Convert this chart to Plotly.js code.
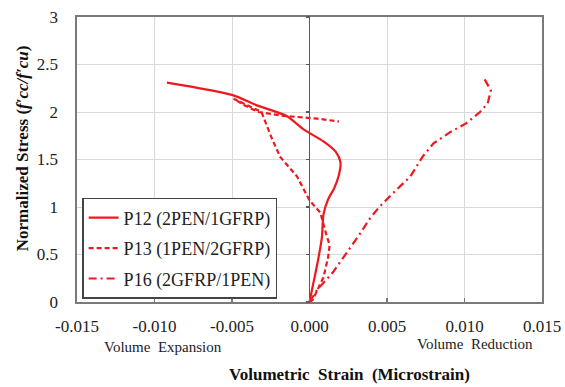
<!DOCTYPE html>
<html>
<head>
<meta charset="utf-8">
<script src="https://cdn.plot.ly/plotly-3.0.1.min.js"></script>
<style>html,body{margin:0;padding:0;background:#fff;}#chart{width:565px;height:387px;}</style>
</head>
<body>
<div id="chart"></div>
<script>
// P12 (2PEN/1GFRP)
const p12Strain = [0.0, 0.0002, 0.00055, 0.0008, 0.0009, 0.0012, 0.0016, 0.0019, 0.0020, 0.0017, 0.0009, -0.0004, -0.0015, -0.0034, -0.0050, -0.0092];
const p12Stress = [0.0, 0.16, 0.44, 0.68, 0.92, 1.08, 1.20, 1.34, 1.47, 1.58, 1.69, 1.82, 1.96, 2.07, 2.18, 2.31];
// P13 (1PEN/2GFRP)
const p13Strain = [0.0, 0.0002, 0.0009, 0.0012, 0.0013, 0.0011, 0.0007, 0.0, -0.0008, -0.0011, -0.0019, -0.0024, -0.0029, -0.0031, -0.0040, -0.0049, -0.0042, -0.0033, -0.0017, 0.0005, 0.0019];
const p13Stress = [0.0, 0.02, 0.26, 0.47, 0.60, 0.70, 0.94, 1.07, 1.32, 1.38, 1.53, 1.71, 1.92, 2.00, 2.07, 2.14, 2.07, 2.00, 1.96, 1.93, 1.90];
// P16 (2GFRP/1PEN)
const p16Strain = [0.0, 0.0005, 0.0015, 0.0022, 0.0031, 0.0039, 0.0045, 0.0056, 0.0065, 0.0073, 0.0080, 0.0091, 0.0101, 0.0110, 0.0115, 0.0117, 0.0112];
const p16Stress = [0.0, 0.13, 0.31, 0.47, 0.68, 0.88, 1.00, 1.18, 1.32, 1.53, 1.67, 1.79, 1.88, 2.00, 2.09, 2.23, 2.37];

const seriesNames = ['P12 (2PEN/1GFRP)', 'P13 (1PEN/2GFRP)', 'P16 (2GFRP/1PEN)'];
const xTickVals = [-0.015, -0.010, -0.005, 0.000, 0.005, 0.010, 0.015];
const xTickText = ['-0.015', '-0.010', '-0.005', '0.000', '0.005', '0.010', '0.015'];
const yTickVals = [0, 0.5, 1, 1.5, 2, 2.5, 3];
const yTickText = ['0', '0.5', '1', '1.5', '2', '2.5', '3'];

const RED = 'rgb(238,24,30)';
const serif = '"Liberation Serif", "Times New Roman", "DejaVu Serif", serif';

const traces = [
  {x: p12Strain, y: p12Stress, name: seriesNames[0], mode: 'lines', legendgroup: 'a',
   line: {color: RED, width: 2.2, shape: 'spline', smoothing: 0.7}},
  {x: p13Strain, y: p13Stress, name: seriesNames[1], mode: 'lines', legendgroup: 'b',
   line: {color: RED, width: 2.2, dash: '5px,3px'}},
  {x: p16Strain, y: p16Stress, name: seriesNames[2], mode: 'lines', legendgroup: 'c',
   line: {color: RED, width: 2.2, dash: '8px,4px,2px,4px'}},
  {x: [0], y: [0], yaxis: 'y2', mode: 'markers', marker: {opacity: 0}, showlegend: false, hoverinfo: 'skip'}
];

const layout = {
  width: 565, height: 387,
  margin: {l: 77, r: 23, t: 17, b: 85},
  paper_bgcolor: '#fff', plot_bgcolor: '#fff',
  font: {family: serif, color: '#222'},
  showlegend: true,
  xaxis: {
    range: [-0.015, 0.015], tickvals: xTickVals, ticktext: xTickText,
    showgrid: true, gridcolor: '#d9d9d9', gridwidth: 1,
    zeroline: true, zerolinecolor: '#5a5a5a', zerolinewidth: 1.6,
    showline: true, linecolor: '#7a7a7a', linewidth: 1.6, mirror: true,
    ticks: 'inside', ticklen: 4, tickcolor: '#7a7a7a', tickwidth: 1.2,
    ticklabelstandoff: 8,
    tickfont: {family: serif, size: 17, color: '#222'}
  },
  yaxis: {
    range: [0, 3], tickvals: yTickVals, ticktext: yTickText,
    showgrid: true, gridcolor: '#d9d9d9', gridwidth: 1,
    zeroline: false,
    showline: true, linecolor: '#7a7a7a', linewidth: 1.6, mirror: true,
    ticks: '', ticklabelstandoff: 14,
    tickfont: {family: serif, size: 17, color: '#222'}
  },
  yaxis2: {
    overlaying: 'y', anchor: 'free', position: 0.5, side: 'left',
    range: [0, 3], tickvals: yTickVals, showticklabels: false,
    showgrid: false, zeroline: false, showline: false,
    ticks: 'outside', ticklen: 4, tickcolor: '#5a5a5a', tickwidth: 1.2
  },
  legend: {
    x: 0.011, y: 0.365, xanchor: 'left', yanchor: 'top',
    bgcolor: '#fff', bordercolor: '#444', borderwidth: 1.5,
    font: {family: serif, size: 18, color: '#222'},
    traceorder: 'grouped', tracegroupgap: 4
  },
  annotations: [
    {text: 'Normalized Stress (<i>f′cc/f′cu</i>)', xref: 'paper', yref: 'paper',
     x: -0.118, y: 0.54, xanchor: 'center', yanchor: 'middle', textangle: -90, showarrow: false,
     font: {family: serif, size: 17, color: '#111', weight: 'bold'}},
    {text: 'Volumetric  Strain  (Microstrain)', xref: 'paper', yref: 'paper',
     x: 0.587, y: -0.256, xanchor: 'center', yanchor: 'middle', showarrow: false,
     font: {family: serif, size: 17, color: '#111', weight: 'bold'}},
    {text: 'Volume  Expansion', xref: 'paper', yref: 'paper',
     x: 0.185, y: -0.158, xanchor: 'center', yanchor: 'middle', showarrow: false,
     font: {family: serif, size: 15, color: '#222'}},
    {text: 'Volume  Reduction', xref: 'paper', yref: 'paper',
     x: 0.856, y: -0.147, xanchor: 'center', yanchor: 'middle', showarrow: false,
     font: {family: serif, size: 15, color: '#222'}}
  ]
};

Plotly.newPlot('chart', traces, layout, {displayModeBar: false, staticPlot: true});
</script>
</body>
</html>
